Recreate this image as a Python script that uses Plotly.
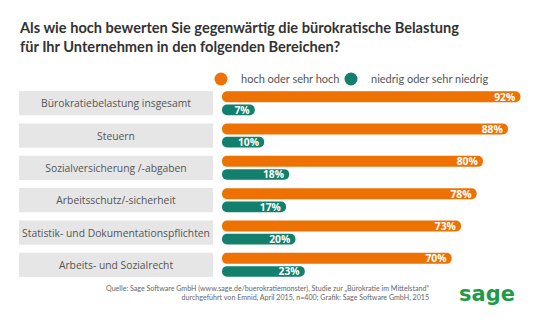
import plotly.graph_objects as go

categories = ["Bürokratiebelastung insgesamt", "Steuern", "Sozialversicherung /-abgaben",
              "Arbeitsschutz/-sicherheit", "Statistik- und Dokumentationspflichten",
              "Arbeits- und Sozialrecht"]
hoch = [92, 88, 80, 78, 73, 70]
niedrig = [7, 10, 18, 17, 20, 23]
series_names = ["hoch oder sehr hoch", "niedrig oder sehr niedrig"]
title_text = ("Als wie hoch bewerten Sie gegenwärtig die bürokratische Belastung<br>"
              "für Ihr Unternehmen in den folgenden Bereichen?")
source_text = ("Quelle: Sage Software GmbH (www.sage.de/buerokratiemonster), Studie zur „Bürokratie im Mittelstand“<br>"
               "durchgeführt von Emnid, April 2015, n=400; Grafik: Sage Software GmbH, 2015")

ORANGE = "#ee7203"
TEAL = "#12806c"
GREY_BOX = "#e6e6e6"
FONT = "Open Sans"
BASE = -3.5

fig = go.Figure()

# category boxes
fig.add_trace(go.Bar(
    y=categories, x=[1] * len(categories), orientation="h",
    xaxis="x2", yaxis="y", width=0.75,
    marker=dict(color=GREY_BOX, line=dict(width=0)),
    text=categories, textposition="inside", insidetextanchor="middle",
    textfont=dict(family=FONT, size=11.5, color="#555555"),
    showlegend=False, hoverinfo="skip", cliponaxis=False,
))

fig.add_trace(go.Bar(
    y=categories, x=[v - BASE for v in hoch], base=BASE, orientation="h",
    offset=-0.37, width=0.34,
    marker=dict(color=ORANGE, cornerradius=6, line=dict(width=0)),
    text=[f"{v}%" for v in hoch], textposition="inside", insidetextanchor="end",
    textfont=dict(family=FONT, size=12, color="white", weight="bold"),
    showlegend=False, name=series_names[0],
))
fig.add_trace(go.Bar(
    y=categories, x=[v - BASE for v in niedrig], base=BASE, orientation="h",
    offset=0.04, width=0.33,
    marker=dict(color=TEAL, cornerradius=6, line=dict(width=0)),
    text=[f"{v}%" for v in niedrig], textposition="inside", insidetextanchor="end",
    textfont=dict(family=FONT, size=12, color="white", weight="bold"),
    showlegend=False, name=series_names[1],
))

# legend entries (circle markers), one legend each for exact placement
for name, col, lg in zip(series_names, [ORANGE, TEAL], ["legend", "legend2"]):
    fig.add_trace(go.Scatter(x=[None], y=[None], mode="markers", name=name, legend=lg,
                             marker=dict(symbol="circle", size=13, color=col)))

legend_common = dict(orientation="h", xanchor="left", y=1 + 8 / 194, yanchor="middle",
                     font=dict(family="Lato", size=11, color="#555555"),
                     itemwidth=30, bgcolor="rgba(0,0,0,0)")

fig.update_layout(
    width=540, height=322,
    margin=dict(l=0, r=0, t=87, b=41, autoexpand=False),
    paper_bgcolor="white", plot_bgcolor="white",
    barmode="overlay",
    uniformtext=dict(minsize=8, mode="show"),
    title=dict(text=title_text, x=20 / 540, xanchor="left", y=1 - 33 / 322, yanchor="top",
               font=dict(family="Lato", size=14.6, color="#333333", weight="bold")),
    xaxis=dict(domain=[222 / 540, 1], range=[BASE, 98.26], visible=False, fixedrange=True),
    xaxis2=dict(domain=[19 / 540, 213 / 540], range=[0, 1], visible=False, anchor="y"),
    yaxis=dict(autorange="reversed", visible=False, type="category"),
    legend=dict(x=201 / 540, **legend_common),
    legend2=dict(x=331 / 540, **legend_common),
    annotations=[
        dict(text=source_text, xref="paper", yref="paper", x=431 / 540, y=-1 / 194,
             xanchor="right", yanchor="top", align="right", showarrow=False,
             font=dict(family="Lato", size=7.1, color="#666666")),
        dict(text="sage", xref="paper", yref="paper", x=487 / 540, y=-13 / 194,
             xanchor="center", yanchor="middle", showarrow=False,
             font=dict(family="DejaVu Sans", size=21, color="#1f9a49", weight="bold")),
    ],
)

fig.write_html("out.html")
